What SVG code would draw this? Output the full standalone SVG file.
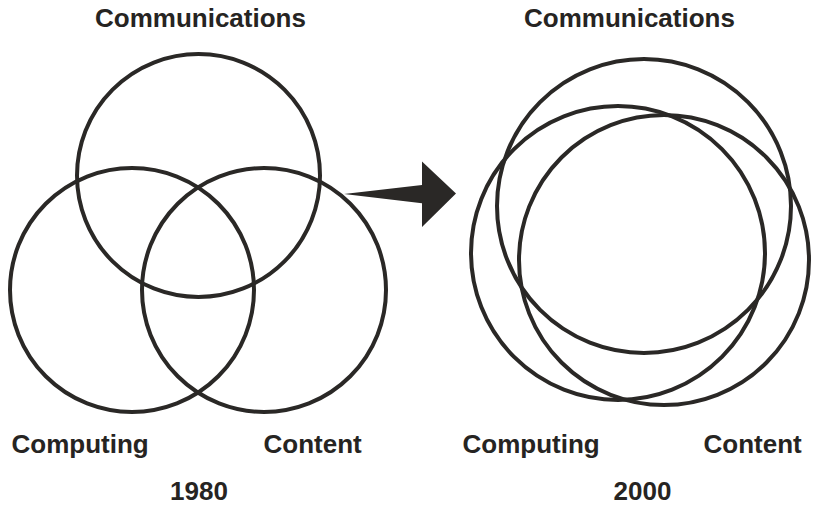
<svg xmlns="http://www.w3.org/2000/svg" width="816" height="506" viewBox="0 0 816 506">
  <style>
    .ring { fill: none; stroke: #2a2826; stroke-width: 4; }
    .label { font-family: "Liberation Sans", Arial, sans-serif; font-weight: bold; font-size: 26px; fill: #262422; }
    .mid { text-anchor: middle; }
  </style>
  <rect width="816" height="506" fill="#ffffff"/>

  <!-- 1980: three separate domains -->
  <g id="venn-1980">
    <g id="communications-1980">
      <circle class="ring" cx="198.5" cy="175.5" r="121.5"/>
      <text class="label mid" x="200.5" y="27">Communications</text>
    </g>
    <g id="computing-1980">
      <circle class="ring" cx="132" cy="290" r="122"/>
      <text class="label" x="11.5" y="453">Computing</text>
    </g>
    <g id="content-1980">
      <circle class="ring" cx="264" cy="290" r="122"/>
      <text class="label" x="263.5" y="453">Content</text>
    </g>
    <text id="year-1980" class="label mid" x="199" y="500">1980</text>
  </g>

  <!-- transition arrow -->
  <g id="connectors">
    <polygon fill="#2a2826" points="344,194 422,185 422,161.5 456,193.5 422,227 422,203.3"/>
  </g>

  <!-- 2000: converged domains -->
  <g id="venn-2000">
    <g id="communications-2000">
      <circle class="ring" cx="644" cy="206" r="147"/>
      <text class="label mid" x="629.5" y="27">Communications</text>
    </g>
    <g id="computing-2000">
      <circle class="ring" cx="618" cy="253" r="147"/>
      <text class="label" x="462.5" y="453">Computing</text>
    </g>
    <g id="content-2000">
      <circle class="ring" cx="664" cy="260" r="145"/>
      <text class="label" x="703.5" y="453">Content</text>
    </g>
    <text id="year-2000" class="label mid" x="642.5" y="500">2000</text>
  </g>
</svg>
